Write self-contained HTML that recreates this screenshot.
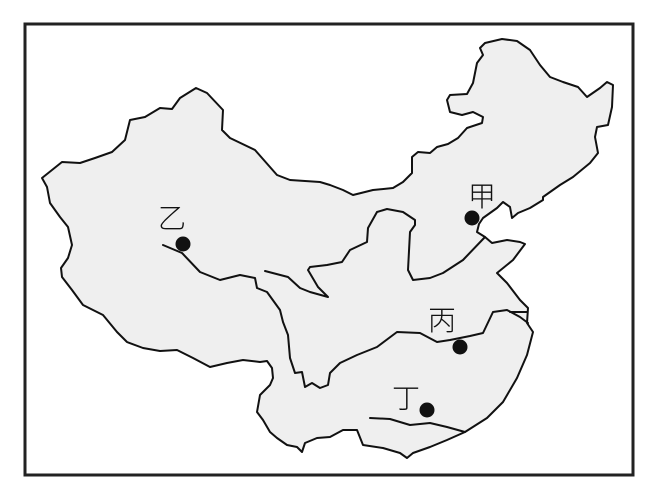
<!DOCTYPE html>
<html><head><meta charset="utf-8"><style>
html,body{margin:0;padding:0;background:#fff;width:659px;height:490px;overflow:hidden}
svg{display:block}
text{font-family:"Liberation Sans","Noto Sans CJK SC",sans-serif;font-size:28px;fill:#111;font-weight:300}
</style></head><body>
<svg width="659" height="490" viewBox="0 0 659 490" xmlns="http://www.w3.org/2000/svg">
<rect x="25" y="24" width="608" height="451" fill="#fff" stroke="#222" stroke-width="3"/>
<g fill="none" stroke="#111" stroke-width="2" stroke-linejoin="round" stroke-linecap="round">
<path fill="#efefef" d="M42,178 L62,162 L80,163 L95,158 L112,152 L125,140 L130,120 L145,117 L160,108 L172,109 L180,98 L196,88 L207,93 L223,110 L222,130 L230,138 L255,150 L277,175 L290,180 L320,182 L330,185 L343,190 L353,195 L373,190 L393,188 L403,182 L412,173 L412,157 L418,152 L430,153 L437,147 L448,144 L458,138 L467,128 L482,123 L483,117 L473,112 L462,115 L450,112 L447,100 L450,95 L467,94 L473,83 L477,63 L483,55 L480,48 L485,43 L502,39 L517,41 L530,50 L540,65 L550,77 L563,82 L578,87 L587,97 L600,88 L607,82 L613,85 L612,107 L608,125 L597,127 L595,137 L598,153 L590,163 L573,177 L560,185 L543,197 L543,200 L530,208 L518,213 L512,218 L510,207 L503,202 L497,208 L483,218 L479,224 L477,232 L485,237 L492,243 L507,240 L520,242 L525,244 L513,260 L497,273 L507,283 L520,300 L528,308 L527,323 L533,332 L527,355 L517,378 L503,402 L487,418 L465,432 L447,440 L430,447 L413,453 L407,458 L400,453 L383,448 L363,445 L357,430 L343,430 L330,437 L317,438 L305,443 L302,452 L297,447 L287,445 L277,438 L270,432 L263,420 L257,412 L260,395 L270,385 L273,378 L272,368 L267,361 L260,362 L243,360 L227,363 L210,367 L193,358 L177,350 L160,351 L143,348 L127,342 L117,332 L103,315 L83,305 L72,290 L62,277 L61,268 L68,258 L72,245 L68,227 L60,217 L50,203 L47,187 Z"/>
<path d="M163,245 L182,253 L200,272 L220,280 L240,275 L255,278 L257,288 L267,292 L280,310 L283,322 L288,335 L290,358 L295,373 L302,372 L305,387 L312,383 L320,388 L328,385 L330,373 L340,363 L357,355 L377,347 L397,332 L420,333 L437,342 L450,340 L470,336 L483,333 L493,312 L507,310 L520,317 L528,323"/>
<path d="M510,312 L527,312"/>
<path d="M265,271 L288,277 L300,288 L310,292 L328,297 L318,287 L308,270 L310,267 L327,265 L342,262 L350,250 L367,242 L368,228 L377,212 L387,209 L403,212 L415,220 L415,225 L410,232 L408,270 L413,280 L430,278 L443,273 L463,260 L485,237"/>
<path d="M370,418 L390,419 L410,425 L430,423 L447,427 L465,432"/>
</g>
<g fill="#111">
<circle cx="472" cy="218" r="7.5"/>
<circle cx="183" cy="244" r="7.5"/>
<circle cx="460" cy="347" r="7.5"/>
<circle cx="427" cy="410" r="7.5"/>
</g>
<text x="468" y="206">甲</text>
<text x="158" y="228">乙</text>
<text x="428" y="330">丙</text>
<text x="392" y="408">丁</text>
</svg>
</body></html>
